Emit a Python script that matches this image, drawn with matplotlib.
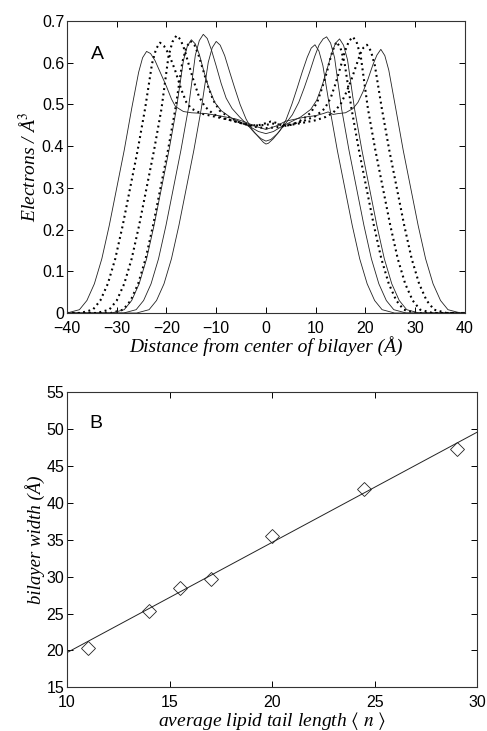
import numpy as np
import matplotlib
matplotlib.use("Agg")
import matplotlib.pyplot as plt

plt.rcParams['font.family'] = ['Liberation Sans', 'DejaVu Sans']
plt.rcParams['mathtext.fontset'] = 'stix'

# ---- panel A: electron density profiles ----
sg_x = [-40, -37.5, -36, -34.5, -33, -31.5, -30, -28.5, -27, -25.6, -24.8, -24,
        -23.2, -22.3, -21, -20, -19, -18.2, -16.6, -15, -12, -9, -6, -4, -2, 0,
        2, 4, 6, 8, 10, 11.5, 12.5, 13.5, 14.5, 16, 17.5, 18.5, 19.5, 20.5, 21.5, 22.3, 23.1,
        23.9, 24.7, 26.1, 27.6, 29.1, 30.6, 32.1, 33.6, 35.1, 36.6, 39.1, 40]
sg_y = [0, 0.008, 0.03, 0.07, 0.13, 0.21, 0.30, 0.39, 0.49, 0.577, 0.612, 0.627,
        0.622, 0.605, 0.57, 0.543, 0.513, 0.495, 0.483, 0.480, 0.478, 0.472, 0.465, 0.457, 0.447, 0.440,
        0.448, 0.460, 0.465, 0.470, 0.473, 0.478, 0.482, 0.476, 0.478, 0.480, 0.490, 0.505, 0.530, 0.560, 0.595, 0.618, 0.632,
        0.617, 0.582, 0.49, 0.39, 0.30, 0.21, 0.13, 0.07, 0.03, 0.008, 0, 0]

df_x = [-40, -37.3, -34.8, -33.3, -31.8, -30.3, -28.8, -27.3, -25.8, -24.3, -22.9, -22.1, -21.3,
        -20.5, -19.5, -18.3, -17, -16, -15, -13, -10, -7, -4, -2, 0, 2, 4, 7, 10, 12, 13.5, 15,
        16.2, 17.2, 18.2, 19, 19.6, 20.3,
        21.1, 21.9, 23.3, 24.8, 26.3, 27.8, 29.3, 30.8, 32.3, 33.8, 36.3, 40]
df_y = [0, 0, 0.008, 0.03, 0.07, 0.13, 0.21, 0.30, 0.39, 0.49, 0.598, 0.633, 0.648,
        0.640, 0.620, 0.583, 0.535, 0.505, 0.490, 0.478, 0.470, 0.462, 0.452, 0.446, 0.443, 0.445, 0.449, 0.455, 0.462, 0.470, 0.480, 0.500,
        0.530, 0.560, 0.595, 0.622, 0.636, 0.643,
        0.628, 0.593, 0.49, 0.39, 0.30, 0.21, 0.13, 0.07, 0.03, 0.008, 0, 0]

de_x = [-40, -34, -31.5, -30, -28.5, -27, -25.5, -24, -22.5, -21, -19.6, -18.8, -18,
        -17.2, -16.4, -15.5, -14.5, -13.5, -12.3, -10.5, -8, -5, -2.5, 0, 1.5, 3, 5, 7.5, 10,
        11.8, 13, 14, 15, 15.9, 16.7, 17.5,
        18.3, 19.1, 20.5, 22, 23.5, 25, 26.5, 28, 29.5, 31, 33.5, 40]
de_y = [0, 0, 0.008, 0.03, 0.07, 0.13, 0.21, 0.30, 0.39, 0.49, 0.615, 0.650, 0.665,
        0.656, 0.632, 0.595, 0.555, 0.520, 0.495, 0.476, 0.465, 0.455, 0.449, 0.451, 0.454, 0.451, 0.452, 0.460, 0.472,
        0.490, 0.515, 0.550, 0.590, 0.628, 0.652, 0.662,
        0.647, 0.612, 0.49, 0.39, 0.30, 0.21, 0.13, 0.07, 0.03, 0.008, 0, 0]

dc_x = [-40, -31.2, -28.7, -27.2, -25.7, -24.2, -22.7, -21.2, -19.7, -18.2, -16.8, -16, -15.2,
        -14.4, -13.6, -12.7, -11.7, -10.6, -9.3, -7.5, -5.5, -3.5, -1.5, 0, 1, 2, 3.5, 5.5, 7.5,
        9, 10.3, 11.3, 12.3, 13.1, 13.7, 14.2,
        15, 15.8, 17.2, 18.7, 20.2, 21.7, 23.2, 24.7, 26.2, 27.7, 30.2, 40]
dc_y = [0, 0, 0.008, 0.03, 0.07, 0.13, 0.21, 0.30, 0.39, 0.49, 0.602, 0.637, 0.652,
        0.643, 0.620, 0.585, 0.545, 0.510, 0.485, 0.470, 0.458, 0.450, 0.450, 0.455, 0.459, 0.456, 0.448, 0.452, 0.465,
        0.480, 0.505, 0.540, 0.580, 0.617, 0.638, 0.650,
        0.635, 0.600, 0.49, 0.39, 0.30, 0.21, 0.13, 0.07, 0.03, 0.008, 0, 0]

sd_x = [-40, -31, -28.5, -27, -25.5, -24, -22.5, -21, -19.5, -18, -16.6, -15.8, -15,
        -14.2, -13.4, -12.5, -11.5, -10.3, -9, -7, -5, -3, -1.5, 0, 1.5, 3, 5, 7, 9,
        10.2, 11.3, 12.3, 13.2, 14, 14.8,
        15.6, 16.4, 17.8, 19.3, 20.8, 22.3, 23.8, 25.3, 26.8, 28.3, 30.8, 40]
sd_y = [0, 0, 0.008, 0.03, 0.07, 0.13, 0.21, 0.30, 0.39, 0.49, 0.605, 0.640, 0.655,
        0.645, 0.620, 0.580, 0.540, 0.505, 0.485, 0.468, 0.457, 0.445, 0.435, 0.430, 0.435, 0.446, 0.458, 0.470, 0.488,
        0.510, 0.545, 0.585, 0.622, 0.647, 0.657,
        0.642, 0.607, 0.49, 0.39, 0.30, 0.21, 0.13, 0.07, 0.03, 0.008, 0, 0]

sb_x = [-40, -28.6, -26.1, -24.6, -23.1, -21.6, -20.1, -18.6, -17.1, -15.6, -14.2, -13.4, -12.6,
        -11.8, -11, -10, -9, -8, -6.8, -5.3, -3.8, -2.3, -1, 0, 1, 2.3, 3.8, 5.3, 6.6,
        7.7, 8.8, 9.8, 10.7, 11.5, 12.2,
        13, 13.8, 15.2, 16.7, 18.2, 19.7, 21.2, 22.7, 24.2, 25.7, 28.2, 40]
sb_y = [0, 0, 0.008, 0.03, 0.07, 0.13, 0.21, 0.30, 0.39, 0.49, 0.618, 0.653, 0.668,
        0.658, 0.632, 0.592, 0.550, 0.515, 0.490, 0.470, 0.452, 0.432, 0.418, 0.412, 0.416, 0.430, 0.452, 0.475, 0.505,
        0.540, 0.578, 0.615, 0.643, 0.657, 0.662,
        0.647, 0.612, 0.49, 0.39, 0.30, 0.21, 0.13, 0.07, 0.03, 0.008, 0, 0]

sa_x = [-40, -26, -23.5, -22, -20.5, -19, -17.5, -16, -14.5, -13, -11.6, -10.8, -10,
        -9.2, -8.3, -7.3, -6.3, -5.2, -4, -2.8, -1.5, -0.5, 0, 0.5, 1.5, 2.8, 4, 5.2, 6.3,
        7.3, 8.3, 9.1, 9.85,
        10.65, 11.45, 12.85, 14.35, 15.85, 17.35, 18.85, 20.35, 21.85, 23.35, 25.85, 40]
sa_y = [0, 0, 0.008, 0.03, 0.07, 0.13, 0.21, 0.30, 0.39, 0.49, 0.601, 0.636, 0.651,
        0.642, 0.617, 0.578, 0.540, 0.500, 0.465, 0.440, 0.422, 0.409, 0.405, 0.407, 0.418, 0.437, 0.462, 0.500, 0.540,
        0.578, 0.613, 0.635, 0.643,
        0.628, 0.593, 0.49, 0.39, 0.30, 0.21, 0.13, 0.07, 0.03, 0.008, 0, 0]

profiles = [(sa_x, sa_y, 'solid'), (sb_x, sb_y, 'solid'), (dc_x, dc_y, 'dotted'),
            (sd_x, sd_y, 'solid'), (de_x, de_y, 'dotted'), (df_x, df_y, 'dotted'),
            (sg_x, sg_y, 'solid')]

# ---- panel B: bilayer width vs tail length ----
tail_len = [11, 14, 15.5, 17, 20, 24.5, 29]
width = [20.3, 25.3, 28.4, 29.7, 35.5, 41.9, 47.3]
fit_x = [10, 30]
fit_y = [19.7, 49.6]

fig = plt.figure(figsize=(4.87, 7.31), dpi=100)
axA = fig.add_axes([0.1376, 0.5718, 0.817, 0.3995])
axB = fig.add_axes([0.1376, 0.0598, 0.8425, 0.4036])

for x, y, st in profiles:
    if st == 'solid':
        axA.plot(x, y, color='#222222', lw=0.6)
    else:
        axA.plot(x, y, color='black', lw=1.5, linestyle=(0, (0.9, 1.7)))

axA.set_xlim(-40, 40)
axA.set_ylim(0, 0.7)
axA.set_xticks(np.arange(-40, 41, 10))
axA.set_yticks(np.arange(0, 0.71, 0.1))
axA.set_yticklabels(['0', '0.1', '0.2', '0.3', '0.4', '0.5', '0.6', '0.7'])
axA.text(-33.8, 0.62, 'A', fontsize=14, va='center', ha='center')
axA.set_xlabel('Distance from center of bilayer (Å)', family='Liberation Serif',
               style='italic', fontsize=14, labelpad=0)
axA.set_ylabel(r'Electrons / Å$^{3}$', family='Liberation Serif',
               style='italic', fontsize=14, labelpad=1)

axB.plot(fit_x, fit_y, color='#222222', lw=0.7)
axB.plot(tail_len, width, linestyle='none', marker='D', ms=7.5,
         mfc='none', mec='#222222', mew=0.6)
axB.set_xlim(10, 30)
axB.set_ylim(15, 55)
axB.set_xticks([10, 15, 20, 25, 30])
axB.set_yticks(np.arange(15, 56, 5))
axB.text(11.4, 50.7, 'B', fontsize=14, va='center', ha='center')
axB.set_xlabel(r'average lipid tail length $\langle\ n\ \rangle$', family='Liberation Serif',
               style='italic', fontsize=14, labelpad=0)
axB.set_ylabel('bilayer width (Å)', family='Liberation Serif',
               style='italic', fontsize=13.5, labelpad=1)

for ax in (axA, axB):
    ax.tick_params(direction='in', top=True, right=True, length=4, width=0.7,
                   labelsize=11.5)
    ax.tick_params(axis='x', pad=5.5)
    ax.tick_params(axis='y', pad=2)
    for s in ax.spines.values():
        s.set_linewidth(0.8)
        s.set_color('#333333')

fig.savefig('out.png', dpi=100)
